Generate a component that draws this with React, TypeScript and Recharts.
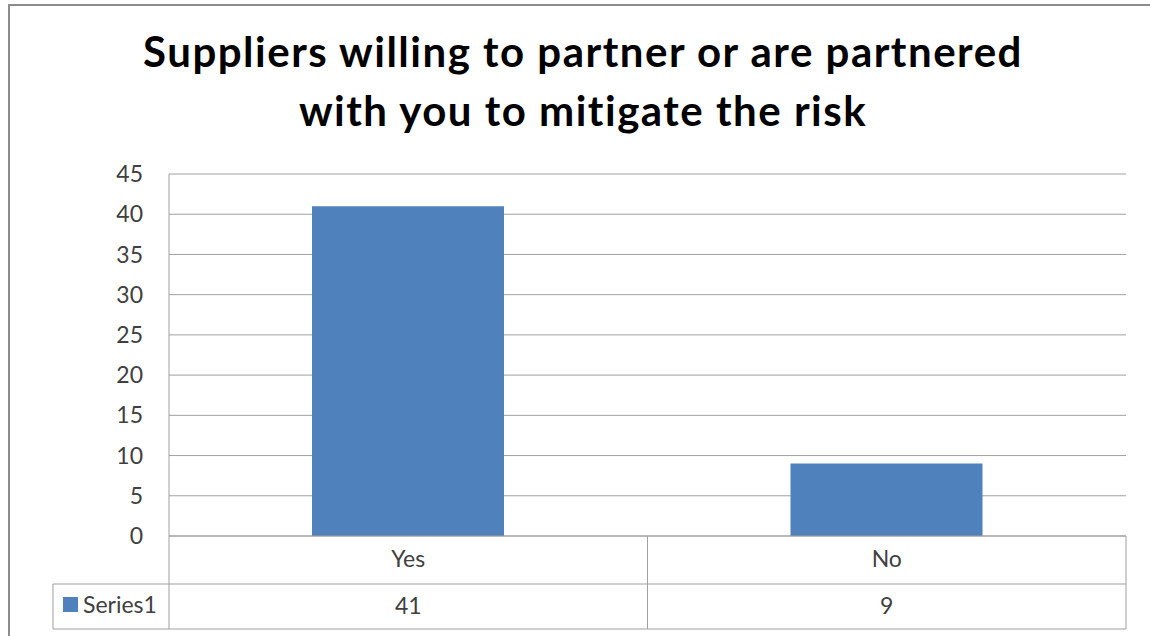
import React from 'react'
import { BarChart, Bar, XAxis, YAxis, CartesianGrid } from 'recharts'

const categories = ['Yes', 'No']
const series1 = [41, 9]
const yTicks = [0, 5, 10, 15, 20, 25, 30, 35, 40, 45]
const seriesName = 'Series1'

const data = categories.map((name, i) => ({ name, Series1: series1[i] }))

const W = 1150
const H = 636
const PLOT_LEFT = 169
const PLOT_RIGHT = 1126
const PLOT_TOP = 174
const PLOT_BOTTOM = 536
const ROW_SPLIT = 584
const TABLE_BOTTOM = 629
const LEGEND_LEFT = 53
const BLUE = '#4F81BD'
const LINE = '#a0a0a0'
const TEXT = '#404040'
const FONT = 'Lato, "Open Sans", sans-serif'

const bandWidth = (PLOT_RIGHT - PLOT_LEFT) / categories.length

const TableTick = (props: any) => {
  const { x, payload, index } = props
  const left = x - bandWidth / 2
  const right = x + bandWidth / 2
  return (
    <g>
      {index === 0 && (
        <g>
          <line x1={left} y1={PLOT_BOTTOM} x2={left} y2={TABLE_BOTTOM} stroke={LINE} />
          <line x1={LEGEND_LEFT} y1={ROW_SPLIT} x2={left} y2={ROW_SPLIT} stroke={LINE} />
          <line x1={LEGEND_LEFT} y1={TABLE_BOTTOM} x2={left} y2={TABLE_BOTTOM} stroke={LINE} />
          <line x1={LEGEND_LEFT} y1={ROW_SPLIT} x2={LEGEND_LEFT} y2={TABLE_BOTTOM} stroke={LINE} />
          <rect x={63} y={597} width={15} height={15} fill={BLUE} />
          <text x={83} y={613} fontSize={23} fill={TEXT} fontFamily={FONT}>{seriesName}</text>
        </g>
      )}
      <line x1={right} y1={PLOT_BOTTOM} x2={right} y2={TABLE_BOTTOM} stroke={LINE} />
      <line x1={left} y1={ROW_SPLIT} x2={right} y2={ROW_SPLIT} stroke={LINE} />
      <line x1={left} y1={TABLE_BOTTOM} x2={right} y2={TABLE_BOTTOM} stroke={LINE} />
      <text x={x} y={567} textAnchor="middle" fontSize={23} fill={TEXT} fontFamily={FONT}>
        {payload.value}
      </text>
      <text x={x} y={614} textAnchor="middle" fontSize={23} fill={TEXT} fontFamily={FONT}>
        {series1[index]}
      </text>
    </g>
  )
}

export default function App() {
  const yAxisWidth = 60
  return (
    <div style={{ position: 'absolute', left: 0, top: 0, width: W, height: H, background: '#fff', overflow: 'hidden' }}>
      <div
        style={{
          position: 'absolute',
          left: 8,
          top: 4,
          width: W,
          height: H,
          borderLeft: '2px solid #8c8c8c',
          borderTop: '2px solid #8c8c8c',
        }}
      />
      <div
        style={{
          position: 'absolute',
          left: 0,
          top: 22,
          width: 1166,
          textAlign: 'center',
          fontFamily: FONT,
          fontWeight: 700,
          fontSize: 42,
          letterSpacing: 1.5,
          lineHeight: '59px',
          color: '#000',
        }}
      >
        Suppliers willing to partner or are partnered
        <br />
        with you to mitigate the risk
      </div>
      <div style={{ position: 'absolute', left: 0, top: 0 }}>
        <BarChart
          width={W}
          height={H}
          data={data}
          margin={{ top: PLOT_TOP, right: W - PLOT_RIGHT, left: PLOT_LEFT - yAxisWidth, bottom: 0 }}
        >
          <CartesianGrid vertical={false} stroke={LINE} />
          <XAxis
            dataKey="name"
            height={H - PLOT_BOTTOM}
            tickLine={false}
            tickSize={0}
            axisLine={{ stroke: LINE }}
            tick={<TableTick />}
            interval={0}
          />
          <YAxis
            width={yAxisWidth}
            domain={[0, 45]}
            ticks={yTicks}
            tickLine={false}
            tickSize={0}
            tickMargin={26}
            axisLine={{ stroke: LINE }}
            tick={{ fontSize: 23, fill: TEXT, fontFamily: FONT }}
          />
          <Bar dataKey="Series1" fill={BLUE} barSize={192} isAnimationActive={false} />
        </BarChart>
      </div>
    </div>
  )
}
